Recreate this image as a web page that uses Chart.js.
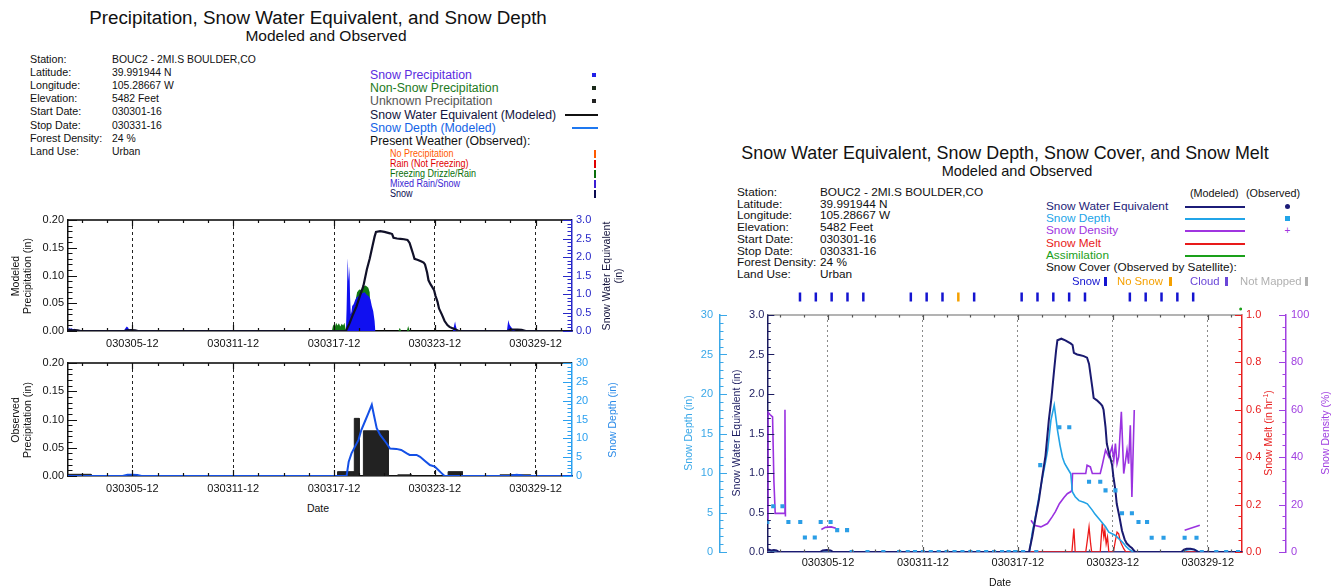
<!DOCTYPE html>
<html>
<head>
<meta charset="utf-8">
<script src="https://cdn.jsdelivr.net/npm/chart.js@4.4.0/dist/chart.umd.min.js"></script>
<style>
  body { margin: 0; background: #fff; width: 1339px; height: 587px; overflow: hidden; position: relative;
         font-family: "Liberation Sans", Arial, sans-serif; }
  .t { position: absolute; white-space: nowrap; line-height: 1.15; }
  canvas { position: absolute; }
  .sw { position: absolute; }
</style>
</head>
<body>
<canvas id="precipTop" width="640" height="150" style="left:0px;top:200px"></canvas>
<canvas id="precipBottom" width="640" height="150" style="left:0px;top:350px"></canvas>
<canvas id="sweChart" width="679" height="287" style="left:660px;top:300px"></canvas>
<canvas id="coverStrip" width="475" height="24" style="left:767px;top:291px"></canvas>
<script>
// hours since 030301-16
const dateTickHours = [92, 236, 380, 524, 668];
const dateTickLabels = ['030305-12', '030311-12', '030317-12', '030323-12', '030329-12'];

const stationLabels = ['Station:', 'Latitude:', 'Longitude:', 'Elevation:', 'Start Date:', 'Stop Date:', 'Forest Density:', 'Land Use:'];
const stationValues = ['BOUC2 - 2MI.S BOULDER,CO', '39.991944 N', '105.28667 W', '5482 Feet', '030301-16', '030331-16', '24 %', 'Urban'];

// modeled precipitation (in)
const snowPrecipHours = [0, 1, 3, 5, 7, 9, 11, 13, 15, 80, 82, 84, 86, 88,
  397, 398, 399.5, 401, 402, 403, 404, 405, 406, 408, 410, 412, 414, 416, 418, 420, 422, 424, 426, 428, 430, 432, 434, 436, 438, 439,
  550, 552, 553, 554, 556, 627, 629, 630, 631, 633, 635, 637, 640];
const snowPrecip = [0.003, 0.006, 0.004, 0.005, 0.003, 0.004, 0.002, 0.002, 0, 0, 0.005, 0.008, 0.006, 0,
  0, 0.04, 0.131, 0.09, 0.116, 0.06, 0.03, 0.035, 0.045, 0.048, 0.055, 0.06, 0.062, 0.064, 0.066, 0.068, 0.069, 0.07, 0.066, 0.064, 0.062, 0.057, 0.045, 0.036, 0.018, 0,
  0, 0.012, 0.017, 0.01, 0, 0, 0.02, 0.015, 0.011, 0.007, 0.004, 0.002, 0];
const nonSnowHours = [377, 379, 381, 383, 385, 387, 389, 391, 393, 395, 397, 409, 410, 413, 416, 419, 422, 425, 427, 429, 431, 433, 472, 474, 476, 484, 486, 488];
const nonSnowPrecip = [0, 0.012, 0.006, 0.015, 0.01, 0.014, 0.008, 0.013, 0.01, 0.015, 0, 0, 0.05, 0.07, 0.075, 0.074, 0.08, 0.082, 0.08, 0.078, 0.07, 0, 0, 0.006, 0, 0, 0.009, 0];

// modeled snow water equivalent (in)
const sweHours = [0, 2, 6, 10, 14, 18, 80, 84, 90, 96, 100,
  397, 402, 407, 412, 417, 422, 427, 431, 435, 438, 440, 446, 452, 460, 463, 465, 470, 475, 480, 485,
  488, 490, 493, 495, 500, 505, 508, 510, 513, 515, 518, 520, 523, 525, 528, 530, 534, 538, 542, 545, 550, 553, 556, 558,
  628, 632, 636, 642, 648, 654, 720];
const sweModeled = [0.02, 0.03, 0.02, 0.025, 0.02, 0, 0, 0.02, 0.025, 0.02, 0,
  0, 0.2, 0.44, 0.66, 0.95, 1.22, 1.67, 1.95, 2.30, 2.55, 2.68, 2.70, 2.68, 2.64, 2.62, 2.52, 2.50, 2.49, 2.48, 2.46,
  2.38, 2.26, 2.08, 1.95, 1.92, 1.88, 1.85, 1.80, 1.58, 1.37, 1.26, 1.20, 1.10, 0.95, 0.78, 0.61, 0.45, 0.27, 0.16, 0.11, 0.07, 0.05, 0.02, 0,
  0, 0.03, 0.04, 0.04, 0.03, 0, 0];

// observed precipitation (in), one bar per report period
const obsPrecipStart = [0, 385, 409, 422, 471, 543, 617];
const obsPrecipEnd = [33, 409, 416, 457.5, 490.7, 563.5, 661];
const obsPrecip = [0.003, 0.0077, 0.102, 0.080, 0.002, 0.0077, 0.002];

// snow depth line under the observed precipitation (in)
const depthHoursP = [0, 78, 85, 92, 99, 105, 398, 401, 405, 410, 415, 419, 424, 429, 434, 437,
  441, 446, 455, 460, 469, 476, 484, 488, 498, 503, 510, 517, 524, 529, 534, 538, 630, 636, 641, 647, 652, 720];
const depthP = [0, 0, 0.3, 0.35, 0.3, 0, 0, 3.8, 6.0, 7.8, 9.6, 12.2, 14.4, 16.6, 18.9, 16.2,
  12.7, 10.9, 8.7, 7.3, 7.2, 6.9, 6.0, 5.6, 5.6, 5.1, 4.0, 2.9, 2.5, 1.6, 0.7, 0, 0, 0.2, 0.3, 0.2, 0, 0];

// modeled snow depth (in)
const depthHours = [0, 397.6, 402, 407.6, 412, 417.6, 422, 425.2, 430.2, 435.2, 440.2, 444, 447.7, 451, 455.3, 460.3, 462.8, 467, 472.8, 480,
  485.4, 492.9, 497, 503, 508, 513, 518, 523, 528, 533, 537, 540.6, 544, 548, 552, 555.6, 630, 636, 642, 648, 654, 720];
const depthModeled = [0, 0, 2.5, 4.86, 7.0, 9.5, 11.4, 12.9, 16.7, 18.6, 15.4, 13.5, 12.0, 11.2, 10.6, 9.9, 7.6, 7.0, 6.5, 6.3,
  6.1, 5.3, 4.8, 4.2, 3.7, 3.2, 2.5, 2.3, 2.1, 1.7, 1.4, 1.06, 0.7, 0.4, 0.15, 0, 0, 0.25, 0.35, 0.3, 0, 0];

// observed snow depth (in)
const obsDepthHours = [0, 9, 23, 32, 50, 57, 72, 81, 96, 106, 121,
  128, 152, 176, 200, 213, 224, 236, 248, 260, 272, 284, 296, 308, 320, 332, 344, 356, 366, 376, 388, 408,
  414, 443, 458, 488, 505, 513, 528, 538, 553, 563, 576, 583, 601, 633, 651, 659, 681, 696, 714];
const obsDepth = [3.8, 5.8, 5.8, 3.8, 3.8, 1.84, 1.84, 3.8, 3.8, 2.77, 2.77,
  0, 0, 0, 0, 0, 0, 0, 0, 0, 0, 0, 0, 0, 0, 0, 0, 0, 0, 0, 0, 0,
  11.0, 15.8, 15.8, 8.9, 8.9, 7.8, 7.8, 4.9, 4.9, 3.8, 3.8, 1.8, 1.8, 1.8, 1.8, 0, 0, 0, 0];

// modeled snow density (%), null = no snow on the ground
const densityHours = [0, 1, 4, 8, 10, 12, 26, 26.8, 27.5, 50, 82, 88, 97, 104, 200,
  400, 405, 415, 425, 432, 437, 443, 450, 455, 460, 462, 463, 483, 485, 490, 493, 505, 508, 513, 518, 523, 525.5, 528, 530.5, 533, 537, 540.6, 545.6, 548, 550.6, 553, 556.6,
  600, 633, 656];
const densityModeled = [14, 59, 58, 57, 30, 16.3, 16.3, 60, 15, null, 9.5, 10.4, 10.6, 10, null,
  13.4, 11.3, 10.6, 12, 14.8, 17, 20.4, 23, 24.6, 25.4, 26, 33.1, 33.1, 36.6, 35.9, 33.1, 33.1, 36.6, 43, 40.1, 44.4, 38.7, 45.8, 37.3, 40.1, 59.2, 33.1, 43, 37.3, 53.5, 23.2, 59.9,
  null, 9.2, 11.3];

// modeled snow melt (in/hr)
const meltHours = [0, 2, 3, 4, 90, 92, 94, 380, 462, 465, 467, 483, 485.4, 488, 490.4, 492, 505, 508, 510.5, 512,
  514, 516, 518, 525, 528, 530.5, 533, 535, 537, 540.6, 544, 560, 720];
const meltModeled = [0, 0.005, 0.008, 0, 0, 0.006, 0, 0, 0, 0.099, 0, 0, 0.049, 0.106, 0.035, 0, 0, 0.12, 0.063, 0.092,
  0.035, 0.063, 0, 0, 0.049, 0.084, 0.077, 0.05, 0.035, 0.014, 0, 0, 0];

// satellite snow cover days
const coverSnowHours = [50, 74, 98, 122, 146, 218, 242, 266, 314, 386, 410, 434, 458, 482, 550, 574, 598, 622, 646];
const coverNoSnowHours = [290];
const assimHours = [718];

const pts = (xs, ys) => xs.map((x, i) => ({ x, y: ys[i] }));

Chart.defaults.font.family = '"Liberation Sans", Arial, sans-serif';
Chart.defaults.font.size = 11;
Chart.defaults.color = '#111';

// inward tick marks per canvas and scale: major step, minor step, length
const dateTicks = { color: '#111', origin: 92, major: 144, minor: 36, len: 6 };
const tickSpecs = {
  precipTop: {
    top: '#000', x: dateTicks,
    y: { color: '#111', major: 0.05, minor: 0.01, len: 9 },
    y2: { color: '#2828c8', major: 0.5, minor: 0.1, len: 9 }
  },
  precipBottom: {
    top: '#000', x: dateTicks,
    y: { color: '#111', major: 0.05, minor: 0.01, len: 9 },
    y2: { color: '#2aa0f0', major: 5, minor: 1, len: 9 }
  },
  sweChart: {
    top: '#9a9a9a', x: { color: '#555', origin: 92, major: 144, minor: 36, len: 5 },
    yDepth: { color: '#3aa8e8', major: 5, minor: 1, len: 7 },
    ySwe: { color: '#1c1c60', major: 0.5, minor: 0.1, len: 7 },
    yMelt: { color: '#e82020', major: 0.2, minor: 0.05, len: 7 },
    yDens: { color: '#a040e0', major: 20, minor: 5, len: 7 }
  }
};

function drawInward(chart) {
  const specs = tickSpecs[chart.canvas.id];
  if (!specs) return;
  const ctx = chart.ctx;
  const a = chart.chartArea;
  ctx.save();
  ctx.strokeStyle = specs.top;
  ctx.lineWidth = 1.5;
  ctx.beginPath(); ctx.moveTo(a.left, a.top); ctx.lineTo(a.right, a.top); ctx.stroke();
  ctx.restore();
  Object.keys(chart.scales).forEach(id => {
    const s = chart.scales[id];
    const o = specs[id];
    if (!o) return;
    const origin = o.origin !== undefined ? o.origin : s.min;
    const first = origin - Math.floor((origin - s.min) / o.minor + 1e-9) * o.minor;
    const n = Math.floor((s.max - first) / o.minor + 1e-9);
    ctx.save();
    ctx.strokeStyle = o.color;
    ctx.lineWidth = 1.2;
    ctx.beginPath();
    for (let i = 0; i <= n; i++) {
      const v = first + i * o.minor;
      const k = (v - origin) / o.major;
      const len = Math.abs(k - Math.round(k)) < 1e-6 ? o.len : o.len * 0.5;
      const p = Math.round(s.getPixelForValue(v)) + 0.5;
      if (s.isHorizontal()) {
        ctx.moveTo(p, a.bottom); ctx.lineTo(p, a.bottom - len);
        ctx.moveTo(p, a.top); ctx.lineTo(p, a.top + len);
      } else if (s.position === 'left') {
        ctx.moveTo(s.right, p); ctx.lineTo(s.right + len, p);
      } else {
        ctx.moveTo(s.left, p); ctx.lineTo(s.left - len, p);
      }
    }
    ctx.stroke();
    ctx.restore();
  });
}

Chart.register({ id: 'inwardTicks', afterDraw: drawInward });

function dateAxis(h, pad, gridColor, dash, border) {
  return {
    type: 'linear', min: 0, max: 720,
    afterBuildTicks: s => { s.ticks = dateTickHours.map(v => ({ value: v })); },
    afterFit: s => { s.height = h; },
    ticks: { callback: (v, i) => dateTickLabels[i], color: '#111', font: { size: 11 }, padding: pad, maxRotation: 0, autoSkip: false },
    grid: { color: gridColor, lineWidth: 1, drawTicks: false },
    border: { color: border, width: 1.5, dash: dash }
  };
}

function valueAxis(pos, width, min, max, step, digits, color, pad, weight) {
  return {
    type: 'linear', position: pos, min, max, weight: weight || 0,
    afterFit: s => { s.width = width; },
    ticks: { stepSize: step, callback: v => v.toFixed(digits), color, padding: pad, font: { size: 11 } },
    grid: { display: false, drawTicks: false },
    border: { color, width: 1.5 }
  };
}

const baseOptions = (padTop, scales) => ({
  responsive: false, devicePixelRatio: 1, animation: false, events: [],
  layout: { padding: { top: padTop, left: 0, right: 0, bottom: 0 }, autoPadding: false },
  plugins: { legend: { display: false }, tooltip: { enabled: false } },
  scales
});

// modeled precipitation and SWE
new Chart(document.getElementById('precipTop'), {
  type: 'line',
  data: { datasets: [
    { data: pts(sweHours, sweModeled), yAxisID: 'y2', borderColor: '#101028', borderWidth: 2.2, pointRadius: 0, order: 0 },
    { data: pts(snowPrecipHours, snowPrecip), yAxisID: 'y', borderWidth: 0, backgroundColor: '#1010f0', fill: 'origin', pointRadius: 0, order: 1 },
    { data: pts(nonSnowHours, nonSnowPrecip), yAxisID: 'y', borderWidth: 0, backgroundColor: '#117a11', fill: 'origin', pointRadius: 0, order: 2 }
  ] },
  options: baseOptions(20, {
    x: dateAxis(19, 6, '#222', [3, 3], '#000'),
    y: valueAxis('left', 68, 0, 0.2, 0.05, 2, '#111', 4),
    y2: valueAxis('right', 68, 0, 3, 0.5, 1, '#2828c8', 4)
  })
});

// observed precipitation and snow depth
const obsBars = [];
obsPrecipStart.forEach((s, i) => {
  obsBars.push({ x: s, y: 0 }, { x: s, y: obsPrecip[i] }, { x: obsPrecipEnd[i], y: obsPrecip[i] }, { x: obsPrecipEnd[i], y: 0 });
});
new Chart(document.getElementById('precipBottom'), {
  type: 'line',
  data: { datasets: [
    { data: pts(depthHoursP, depthP), yAxisID: 'y2', borderColor: '#1450e6', borderWidth: 2, pointRadius: 0, order: 0 },
    { data: obsBars, yAxisID: 'y', borderColor: '#222', borderWidth: 1, backgroundColor: '#222', fill: 'origin', pointRadius: 0, order: 1 }
  ] },
  options: baseOptions(13, {
    x: dateAxis(24, 6, '#222', [3, 3], '#000'),
    y: valueAxis('left', 68, 0, 0.2, 0.05, 2, '#111', 4),
    y2: valueAxis('right', 68, 0, 30, 5, 0, '#2aa0f0', 4)
  })
});

// SWE, depth, density and melt
new Chart(document.getElementById('sweChart'), {
  type: 'line',
  data: { datasets: [
    { data: pts(obsDepthHours, obsDepth), yAxisID: 'yDepth', showLine: false, pointStyle: 'rect', pointRadius: 2.9,
      pointBackgroundColor: '#2b9ee6', pointBorderWidth: 0, order: 0 },
    { data: pts(sweHours, sweModeled), yAxisID: 'ySwe', borderColor: '#1a1a70', borderWidth: 2, pointRadius: 0, order: 1 },
    { data: pts(depthHours, depthModeled), yAxisID: 'yDepth', borderColor: '#22a2e6', borderWidth: 1.6, pointRadius: 0, order: 2 },
    { data: pts(densityHours, densityModeled), yAxisID: 'yDens', borderColor: '#9a32e0', borderWidth: 1.6, pointRadius: 0, spanGaps: false, order: 3 },
    { data: pts(meltHours, meltModeled), yAxisID: 'yMelt', borderColor: '#ec1a1a', borderWidth: 1.3, pointRadius: 0, order: 4 }
  ] },
  options: baseOptions(15, {
    x: dateAxis(35, 4, '#8a8a8a', [2, 3], '#3a3a8a'),
    yDepth: valueAxis('left', 60, 0, 30, 5, 0, '#3aa8e8', 7, 1),
    ySwe: valueAxis('left', 47.3, 0, 3, 0.5, 1, '#1c1c60', 3, 0),
    yMelt: valueAxis('right', 44, 0, 1, 0.2, 1, '#e82020', 4, 0),
    yDens: valueAxis('right', 53, 0, 100, 20, 0, '#a040e0', 5, 1)
  })
});

// satellite snow cover row above the plot
new Chart(document.getElementById('coverStrip'), {
  type: 'scatter',
  data: { datasets: [
    { data: coverSnowHours.map(h => ({ x: h, y: 'cover' })), pointStyle: 'line', rotation: 90, pointRadius: 4.5, borderWidth: 2.5, borderColor: '#1414d0' },
    { data: coverNoSnowHours.map(h => ({ x: h, y: 'cover' })), pointStyle: 'line', rotation: 90, pointRadius: 4.5, borderWidth: 2.5, borderColor: '#f5a000' },
    { data: assimHours.map(h => ({ x: h, y: 'assim' })), pointStyle: 'circle', pointRadius: 1.5, borderWidth: 0, backgroundColor: '#1aa01a' }
  ] },
  options: {
    responsive: false, devicePixelRatio: 1, animation: false, events: [],
    layout: { padding: 0, autoPadding: false },
    plugins: { legend: { display: false }, tooltip: { enabled: false } },
    scales: {
      x: { type: 'linear', min: 0, max: 720, display: false },
      y: { type: 'category', labels: ['cover', 'assim'], offset: true, display: false }
    }
  }
});

// page text
function txt(s, x, y, o = {}) {
  const d = document.createElement('div');
  d.className = 't';
  d.innerHTML = s;
  d.style.left = x + 'px';
  d.style.top = y + 'px';
  d.style.fontSize = (o.size || 11) + 'px';
  d.style.color = o.color || '#111';
  if (o.rot) {
    d.style.textAlign = 'center';
    d.style.transformOrigin = '50% 50%';
    d.style.transform = 'translate(-50%,-50%) rotate(-90deg) scaleX(' + (o.sx || 1) + ')';
  } else if (o.center) {
    d.style.transformOrigin = '50% 50%';
    d.style.transform = 'translate(-50%,-50%) scaleX(' + (o.sx || 1) + ')';
  } else {
    d.style.transformOrigin = '0 50%';
    d.style.transform = 'translate(0,-50%) scaleX(' + (o.sx || 1) + ')';
  }
  document.body.appendChild(d);
}
function box(x, y, w, h, color, round) {
  const d = document.createElement('div');
  d.className = 'sw';
  d.style.left = x + 'px'; d.style.top = y + 'px';
  d.style.width = w + 'px'; d.style.height = h + 'px';
  d.style.background = color;
  if (round) d.style.borderRadius = '50%';
  document.body.appendChild(d);
}

// left panel
txt('Precipitation, Snow Water Equivalent, and Snow Depth', 318, 18, { size: 18.8, center: true });
txt('Modeled and Observed', 326, 36, { size: 15.5, center: true });
stationLabels.forEach((s, i) => {
  txt(s, 30, 59 + i * 13.1, { size: 11.3, sx: 0.95 });
  txt(stationValues[i], 112, 59 + i * 13.1, { size: 11.3, sx: 0.92 });
});
const precipLegend = [
  ['Snow Precipitation', '#5b2de0'], ['Non-Snow Precipitation', '#1d7a1d'], ['Unknown Precipitation', '#555'],
  ['Snow Water Equivalent (Modeled)', '#141440'], ['Snow Depth (Modeled)', '#1464e6'], ['Present Weather (Observed):', '#111']];
const legendRowsL = [75, 88, 101, 115, 128, 141];
precipLegend.forEach(([s, c], i) => txt(s, 370, legendRowsL[i], { size: 12.3, color: c }));
box(592, 73, 4, 4, '#1f1fe8');
box(592, 86, 4, 4, '#1a2a1a');
box(592, 99, 4, 4, '#222');
box(565, 114, 33, 2, '#111');
box(572, 127, 26, 2, '#1e78f0');
const weatherLegend = [['No Precipitation', '#ff5a00'], ['Rain (Not Freezing)', '#e00000'], ['Freezing Drizzle/Rain', '#0a6e0a'],
  ['Mixed Rain/Snow', '#3b1ed2'], ['Snow', '#0a0a50']];
weatherLegend.forEach(([s, c], i) => {
  txt(s, 390, 154 + i * 9.9, { size: 10, sx: 0.9, color: c });
  box(594, 150 + i * 9.9, 2, 8, c);
});
txt('Modeled<br>Precipitation (in)', 21, 276, { size: 10.5, rot: true });
txt('Snow Water Equivalent<br>(in)', 612, 276, { size: 10.5, rot: true, color: '#14143c' });
txt('Observed<br>Precipitation (in)', 21, 420, { size: 10.5, rot: true });
txt('Snow Depth (in)', 612, 420, { size: 10.5, rot: true, color: '#2a8ae8' });
txt('Date', 318, 508, { size: 10.5, center: true });

// right panel
txt('Snow Water Equivalent, Snow Depth, Snow Cover, and Snow Melt', 1005, 153, { size: 17.9, center: true });
txt('Modeled and Observed', 1017, 171, { size: 14.5, center: true });
stationLabels.forEach((s, i) => {
  txt(s, 737, 193 + i * 11.7, { size: 11.8 });
  txt(stationValues[i], 820, 193 + i * 11.7, { size: 11.8 });
});
txt('(Modeled)', 1190, 193, { size: 10.8 });
txt('(Observed)', 1246, 193, { size: 10.8 });
const sweLegend = [['Snow Water Equivalent', '#1c1c78'], ['Snow Depth', '#21a4e8'], ['Snow Density', '#a035e0'],
  ['Snow Melt', '#e81a1a'], ['Assimilation', '#1aa01a']];
sweLegend.forEach(([s, c], i) => {
  const y = 207 + i * 12.2;
  txt(s, 1046, y, { size: 11.8, color: c });
  box(1185, y - 1, 60, 2, c);
});
box(1285, 204, 5, 5, '#1c1c78', true);
box(1285, 216, 5, 5, '#21a4e8');
txt('+', 1287.5, 231, { size: 10, center: true, color: '#a035e0' });
txt('Snow Cover (Observed by Satellite):', 1046, 268, { size: 11.8 });
txt('Snow', 1072, 281, { size: 11.3, color: '#1414d0' });
box(1104, 277, 2.5, 9, '#1414d0');
txt('No Snow', 1117, 281, { size: 11.3, color: '#f5a000' });
box(1169, 277, 2.5, 9, '#f5a000');
txt('Cloud', 1190, 281, { size: 11.3, color: '#6a46d8' });
box(1225, 277, 2.5, 9, '#6a46d8');
txt('Not Mapped', 1240, 281, { size: 11.3, color: '#b0b0b0' });
box(1305, 277, 2.5, 9, '#b0b0b0');
txt('Snow Depth (in)', 688, 433, { size: 10.5, rot: true, color: '#3aa8e8' });
txt('Snow Water Equivalent (in)', 736, 433, { size: 10.5, rot: true, color: '#1c1c60' });
txt('Snow Melt (in hr<sup style="font-size:7px">-1</sup>)', 1268, 433, { size: 10.5, rot: true, color: '#e82020' });
txt('Snow Density (%)', 1325, 433, { size: 10.5, rot: true, color: '#a040e0' });
txt('Date', 1000, 582, { size: 10.5, center: true });
</script>
</body>
</html>
